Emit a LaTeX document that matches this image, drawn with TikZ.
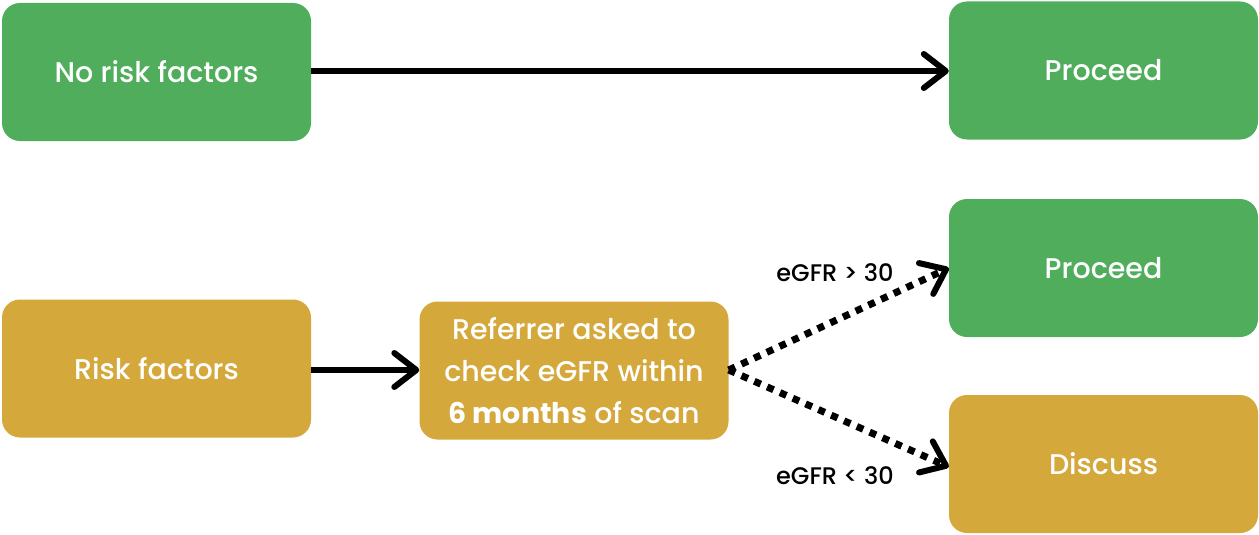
\documentclass[tikz,border=0pt]{standalone}
\usepackage{fontspec}
\setmainfont{Poppins}[UprightFont={* Medium}, BoldFont={* Bold}]
\usetikzlibrary{arrows.meta}
\definecolor{okgreen}{HTML}{4FAD5B}
\definecolor{riskgold}{HTML}{D4A83B}
\begin{document}
\begin{tikzpicture}[x=1pt,y=-1pt,
  card/.style={rounded corners=18pt, minimum width=309pt, minimum height=138pt,
    text=white, align=center, font=\fontsize{28.5}{42}\selectfont, inner sep=0pt},
  goodcard/.style={card, fill=okgreen},
  riskcard/.style={card, fill=riskgold},
  flow/.style={line width=6pt, -{Straight Barb[length=22pt,width=34pt,line width=6pt,line cap=round,line join=round]}},
  maybe/.style={flow, line width=7pt, dash pattern=on 7pt off 7pt},
  cond/.style={font=\fontsize{24}{26}\selectfont, text=black}]
\useasboundingbox (0,0) rectangle (1259,535);
\node[goodcard] (norisk) at (156.5,72) {No risk factors};
\node[goodcard] (go1) at (1103.5,70.5) {Proceed};
\node[goodcard] (go2) at (1103.5,268) {Proceed};
\node[riskcard] (risk) at (156.5,368.5) {Risk factors};
\node[riskcard] (check) at (574,370.5) {Referrer asked to\\check eGFR within\\\textbf{6 months} of scan};
\node[riskcard] (talk) at (1103.5,464) {Discuss};
\draw[flow] (norisk.east |- 0,71) -- (go1.west |- 0,71);
\draw[flow] (risk.east |- 0,370) -- (check.west |- 0,370);
\coordinate (split) at (check.east |- 0,370);
\draw[maybe] (split) -- (go2.west |- 0,268);
\draw[maybe] (split) -- (talk.west |- 0,467);
\node[cond] (hi) at (835,273) {eGFR > 30};
\node[cond] (lo) at (835,476) {eGFR < 30};
\end{tikzpicture}
\end{document}
